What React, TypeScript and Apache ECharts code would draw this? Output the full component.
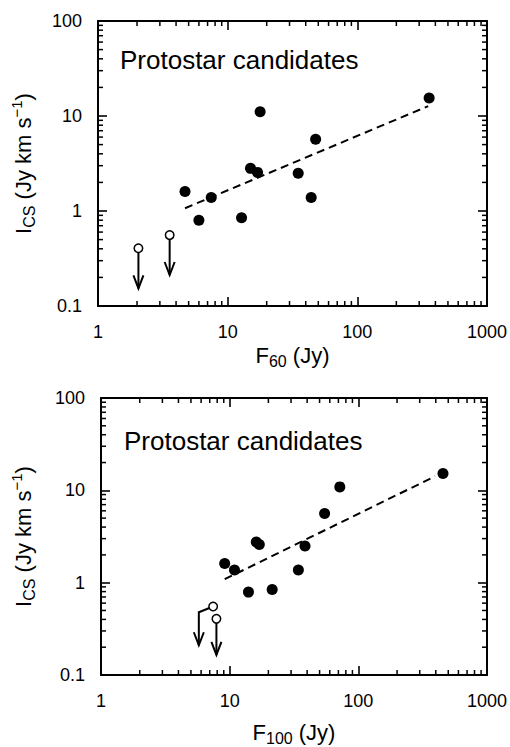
import React, { useEffect, useRef } from "react";
import * as echarts from "echarts";

// ---------- data ----------
const f60 = [4.69, 6.0, 7.47, 12.8, 15.0, 17.0, 17.8, 35.0, 44.1, 47.7, 358];
const ics60 = [1.6, 0.8, 1.39, 0.85, 2.81, 2.55, 11.1, 2.49, 1.39, 5.69, 15.5];
const lim60X = [2.05, 3.57];
const lim60Y = [0.405, 0.558];
const lim60ArrowX = [2.05, 3.57];
const lim60BendY = [0.405, 0.558];
const lim60TipY = [0.153, 0.212];
const fit60X = [4.69, 352];
const fit60Y = [1.07, 12.7];

const f100 = [9.15, 10.9, 14.0, 16.1, 17.0, 21.4, 34.2, 38.5, 54.7, 71.8, 455];
const ics100 = [1.61, 1.37, 0.79, 2.76, 2.59, 0.845, 1.37, 2.49, 5.61, 10.9, 15.2];
const lim100X = [7.44, 7.89];
const lim100Y = [0.552, 0.406];
const lim100ArrowX = [5.76, 7.89];
const lim100BendY = [0.478, 0.406];
const lim100TipY = [0.21, 0.165];
const fit100X = [9.15, 395];
const fit100Y = [1.09, 14.2];

const xMin = 1;
const xMax = 1000;
const yMin = 0.1;
const yMax = 100;
const xDecades = [1, 10, 100];
const yDecades = [0.1, 1, 10];
const minorSteps = [2, 3, 4, 5, 6, 7, 8, 9];

const panelTitle = "Protostar candidates";
const yTitle = "{n|I}{sub|CS}{n| (Jy km s}{sup|−1}{n|)}";
const xTitles = ["{n|F}{sub|60}{n| (Jy)}", "{n|F}{sub|100}{n| (Jy)}"];

const FONT = "'Liberation Sans', Arial, Helvetica, sans-serif";

const xMinor = xDecades.flatMap((d) => minorSteps.map((k) => +(k * d).toPrecision(3)));
const yMinor = yDecades.flatMap((d) => minorSteps.map((k) => +(k * d).toPrecision(3)));

const richStyles = {
  n: { fontSize: 22, lineHeight: 28, color: "#000", fontFamily: FONT },
  sub: { fontSize: 16, lineHeight: 16, verticalAlign: "bottom", color: "#000", fontFamily: FONT },
  sup: { fontSize: 15, lineHeight: 15, verticalAlign: "top", color: "#000", fontFamily: FONT },
};

const fmt = (v: number) => String(+v.toPrecision(3));

const MINOR_LEN = 5;
const MINOR_W = 1.5;

export default function App() {
  const ref = useRef<HTMLDivElement>(null);

  useEffect(() => {
    if (!ref.current) return;
    const chart = echarts.init(ref.current, undefined, { renderer: "svg" });

    const grids = [
      { left: 98, top: 21, width: 389, height: 285 },
      { left: 101, top: 398, width: 388, height: 286 },
    ];
    const nameGaps = [35, 43];
    const yNameGaps = [61, 64];

    const xAxes: any[] = [];
    const yAxes: any[] = [];
    grids.forEach((_, i) => {
      const baseAxisLine = { lineStyle: { color: "#000", width: 2 } };
      const tick = { inside: true, length: 9, lineStyle: { color: "#000", width: 1.6 } };
      xAxes.push({
        type: "log",
        logBase: 10,
        min: xMin,
        max: xMax,
        gridIndex: i,
        position: "bottom",
        axisLine: baseAxisLine,
        axisTick: tick,
        splitLine: { show: false },
        axisLabel: { fontSize: 18, color: "#000", margin: 17, fontFamily: FONT, formatter: fmt },
        name: xTitles[i],
        nameLocation: "middle",
        nameGap: nameGaps[i],
        nameTextStyle: { rich: richStyles },
      });
      xAxes.push({
        type: "log",
        logBase: 10,
        min: xMin,
        max: xMax,
        gridIndex: i,
        position: "top",
        axisLine: baseAxisLine,
        axisTick: tick,
        splitLine: { show: false },
        axisLabel: { show: false },
      });
      yAxes.push({
        type: "log",
        logBase: 10,
        min: yMin,
        max: yMax,
        gridIndex: i,
        position: "left",
        axisLine: baseAxisLine,
        axisTick: tick,
        splitLine: { show: false },
        axisLabel: { fontSize: 18, color: "#000", margin: 16, fontFamily: FONT, formatter: fmt },
        name: yTitle,
        nameLocation: "middle",
        nameGap: yNameGaps[i],
        nameRotate: 90,
        nameTextStyle: { rich: richStyles },
      });
      yAxes.push({
        type: "log",
        logBase: 10,
        min: yMin,
        max: yMax,
        gridIndex: i,
        position: "right",
        axisLine: baseAxisLine,
        axisTick: tick,
        splitLine: { show: false },
        axisLabel: { show: false },
      });
    });

    // minor ticks (2..9 of each decade) as small rect symbols placed by the axes' own scales
    const tickSeries = (i: number, data: number[][], size: number[], offset: number[]) => ({
      type: "scatter",
      xAxisIndex: 2 * i,
      yAxisIndex: 2 * i,
      silent: true,
      clip: false,
      data,
      symbol: "rect",
      symbolSize: size,
      symbolOffset: offset,
      itemStyle: { color: "#000", opacity: 1 },
      z: 6,
    });
    const minorTicks = (i: number) => [
      tickSeries(i, xMinor.map((v) => [v, yMin]), [MINOR_W, MINOR_LEN], [0, -MINOR_LEN / 2]),
      tickSeries(i, xMinor.map((v) => [v, yMax]), [MINOR_W, MINOR_LEN], [0, MINOR_LEN / 2]),
      tickSeries(i, yMinor.map((v) => [xMin, v]), [MINOR_LEN, MINOR_W], [MINOR_LEN / 2, 0]),
      tickSeries(i, yMinor.map((v) => [xMax, v]), [MINOR_LEN, MINOR_W], [-MINOR_LEN / 2, 0]),
    ];

    const arrows = (i: number, ax: number[], ay: number[], arx: number[], bend: number[], tip: number[]) => ({
      type: "custom",
      xAxisIndex: 2 * i,
      yAxisIndex: 2 * i,
      silent: true,
      z: 3,
      data: ax.map((x, k) => [x, ay[k], arx[k], bend[k], tip[k]]),
      renderItem: (_params: any, api: any) => {
        const c = api.coord([api.value(0), api.value(1)]);
        const b = api.coord([api.value(2), api.value(3)]);
        const t = api.coord([api.value(2), api.value(4)]);
        const st = { stroke: "#000", lineWidth: 2, fill: "none" };
        return {
          type: "group",
          children: [
            { type: "polyline", shape: { points: [c, b, t] }, style: st },
            {
              type: "polyline",
              shape: { points: [[t[0] - 5, t[1] - 13], t, [t[0] + 5, t[1] - 13]] },
              style: { ...st },
            },
          ],
        };
      },
    });

    const panel = (i: number, xs: number[], ys: number[], lx: number[], ly: number[], fx: number[], fy: number[]) => [
      {
        type: "line",
        xAxisIndex: 2 * i,
        yAxisIndex: 2 * i,
        data: fx.map((x, k) => [x, fy[k]]),
        symbol: "none",
        lineStyle: { color: "#000", width: 2, type: [8, 5] },
        z: 2,
      },
      {
        type: "scatter",
        xAxisIndex: 2 * i,
        yAxisIndex: 2 * i,
        data: xs.map((x, k) => [x, ys[k]]),
        symbol: "circle",
        symbolSize: 11,
        itemStyle: { color: "#000", opacity: 1 },
        z: 4,
      },
      {
        type: "scatter",
        xAxisIndex: 2 * i,
        yAxisIndex: 2 * i,
        data: lx.map((x, k) => [x, ly[k]]),
        symbol: "circle",
        symbolSize: 8.5,
        itemStyle: { color: "#fff", borderColor: "#000", borderWidth: 1.5, opacity: 1 },
        z: 5,
      },
    ];

    chart.setOption({
      animation: false,
      backgroundColor: "#fff",
      title: [
        { text: panelTitle, left: 115, top: 42, textStyle: { fontSize: 26, fontWeight: "normal", color: "#000", fontFamily: FONT } },
        { text: panelTitle, left: 119, top: 423, textStyle: { fontSize: 26, fontWeight: "normal", color: "#000", fontFamily: FONT } },
      ],
      grid: grids,
      xAxis: xAxes,
      yAxis: yAxes,
      series: [
        ...minorTicks(0),
        ...minorTicks(1),
        arrows(0, lim60X, lim60Y, lim60ArrowX, lim60BendY, lim60TipY),
        arrows(1, lim100X, lim100Y, lim100ArrowX, lim100BendY, lim100TipY),
        ...panel(0, f60, ics60, lim60X, lim60Y, fit60X, fit60Y),
        ...panel(1, f100, ics100, lim100X, lim100Y, fit100X, fit100Y),
      ],
    });

    return () => chart.dispose();
  }, []);

  return <div ref={ref} style={{ position: "absolute", left: 0, top: 0, width: 510, height: 747 }} />;
}
